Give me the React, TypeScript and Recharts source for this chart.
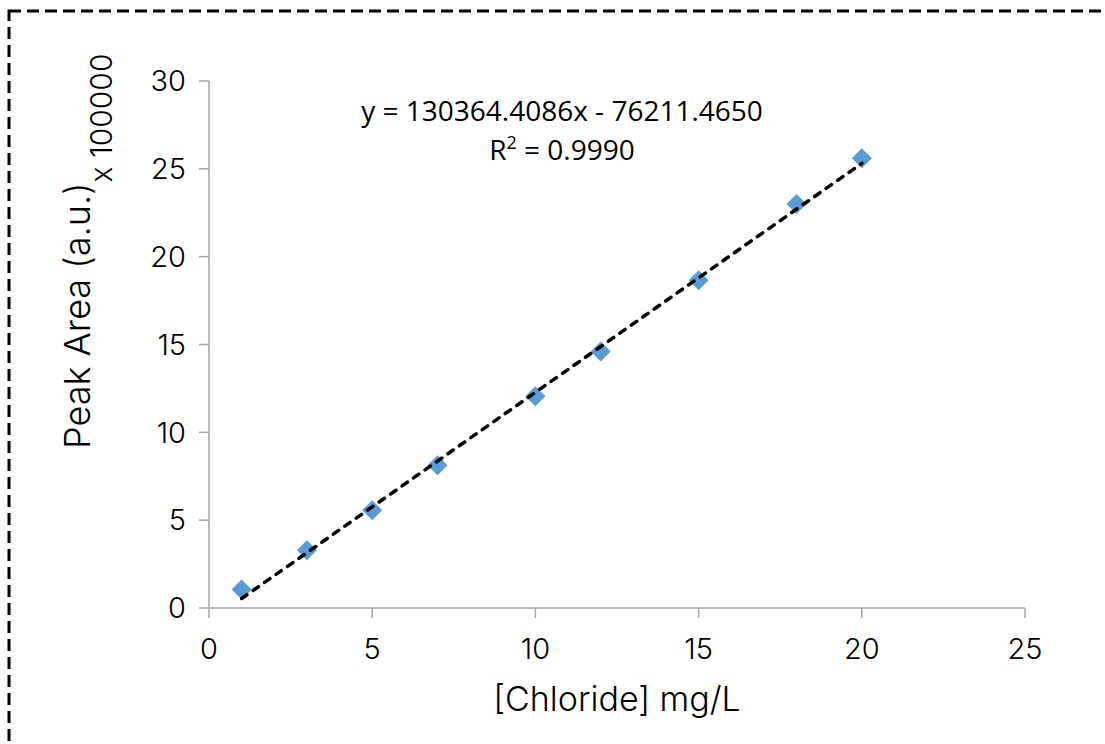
import React from "react";
import { ScatterChart, Scatter, XAxis, YAxis } from "recharts";

// Data
const concentrations = [1, 3, 5, 7, 10, 12, 15, 18, 20]; // mg/L
const peakAreas = [1.05, 3.29, 5.56, 8.13, 12.06, 14.6, 18.66, 23.0, 25.6]; // x 100000

const xTicks = [0, 5, 10, 15, 20, 25];
const yTicks = [0, 5, 10, 15, 20, 25, 30];

// Linear trendline from the equation shown on the chart
const SLOPE = 130364.4086;
const INTERCEPT = -76211.465;
const Y_SCALE = 100000;
const trendRange = [1, 20];

const equationText = "y = 130364.4086x - 76211.4650";
const r2Value = "0.9990";

const pointData = concentrations.map((x, i) => ({ x, y: peakAreas[i] }));
const trendData = trendRange.map((x) => ({ x, y: (SLOPE * x + INTERCEPT) / Y_SCALE }));

const TICK_FONT = "Inter, 'DejaVu Sans', sans-serif";

const Diamond = (props: any) => {
  const { cx, cy } = props;
  if (cx == null || cy == null) return null;
  const r = 10;
  return (
    <polygon
      points={`${cx},${cy - r} ${cx + r},${cy} ${cx},${cy + r} ${cx - r},${cy}`}
      fill="#5B9BD5"
    />
  );
};

const NoShape = () => null;

const YTitle = () => {
  const x = 90;
  const y = 449;
  return (
    <text
      x={x}
      y={y}
      transform={`rotate(-90, ${x}, ${y})`}
      fontFamily={TICK_FONT}
      fontWeight={300}
      fill="#000"
      textAnchor="start"
    >
      <tspan fontSize={36}>Peak Area (a.u.)</tspan>
      <tspan fontSize={30} dy={22}>x 100000</tspan>
    </text>
  );
};

export default function App() {
  return (
    <div style={{ position: "absolute", left: 0, top: 0, width: 1105, height: 744, background: "#fff" }}>
      <ScatterChart
        width={1105}
        height={744}
        margin={{ top: 81, right: 80, bottom: 0, left: 0 }}
      >
        <XAxis
          type="number"
          dataKey="x"
          domain={[0, 25]}
          ticks={xTicks}
          allowDataOverflow
          height={136}
          stroke="#A6A6A6"
          strokeWidth={1.5}
          tickSize={10}
          tickMargin={20}
          tick={{ fill: "#000", fontSize: 29, fontFamily: TICK_FONT, fontWeight: 300 }}
          label={{
            value: "[Chloride] mg/L",
            position: "insideBottom",
            offset: 33,
            fill: "#000",
            fontSize: 34,
            fontFamily: TICK_FONT,
            fontWeight: 300,
          }}
        />
        <YAxis
          type="number"
          dataKey="y"
          domain={[0, 30]}
          ticks={yTicks}
          allowDataOverflow
          width={209}
          stroke="#A6A6A6"
          strokeWidth={1.5}
          tickSize={10}
          tickMargin={13}
          tick={{ fill: "#000", fontSize: 29, fontFamily: TICK_FONT, fontWeight: 300 }}
          label={{ content: () => <YTitle /> }}
        />
        <Scatter
          data={pointData}
          shape={<Diamond />}
          isAnimationActive={false}
        />
        <Scatter
          data={trendData}
          shape={<NoShape />}
          line={{ stroke: "#000", strokeWidth: 3.5, strokeDasharray: "6.5 7.5", strokeLinecap: "round" }}
          lineType="joint"
          isAnimationActive={false}
        />
      </ScatterChart>
      <svg
        width={1105}
        height={744}
        style={{ position: "absolute", left: 0, top: 0, pointerEvents: "none" }}
      >
        <text
          x={562}
          y={121}
          textAnchor="middle"
          fontFamily="'Open Sans', 'Noto Sans', sans-serif"
          fontSize={28}
          fill="#000"
        >
          {equationText}
        </text>
        <text
          x={562}
          y={160}
          textAnchor="middle"
          fontFamily="'Open Sans', 'Noto Sans', sans-serif"
          fontSize={28}
          fill="#000"
        >
          R<tspan fontSize={18} dy={-11}>2</tspan>
          <tspan dy={11}> = {r2Value}</tspan>
        </text>
        <rect
          x={9}
          y={11}
          width={1300}
          height={1000}
          fill="none"
          stroke="#000"
          strokeWidth={3}
          strokeDasharray="12 6"
        />
      </svg>
    </div>
  );
}
